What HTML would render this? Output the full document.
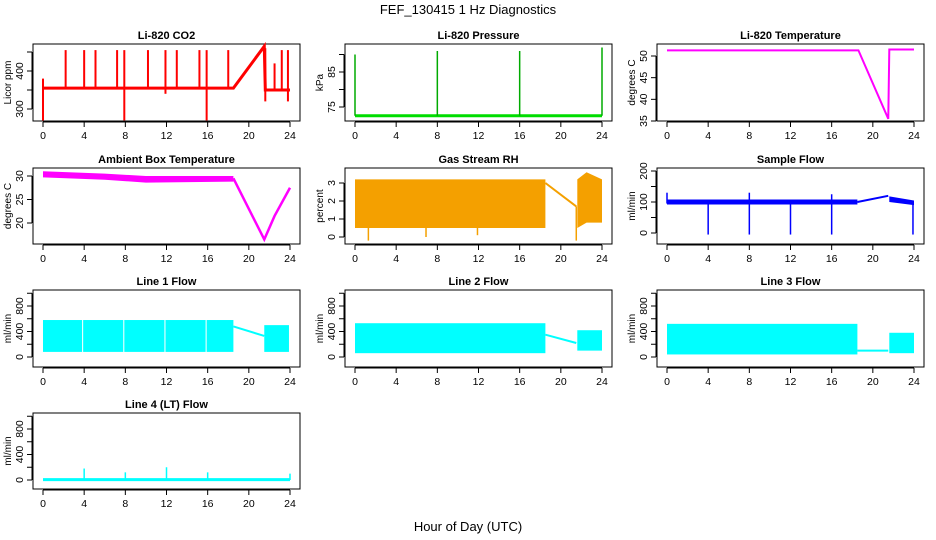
<!DOCTYPE html>
<html><head><meta charset="utf-8"><style>
body{margin:0;background:#fff}
svg{display:block;font-family:"Liberation Sans",sans-serif}
.t{font-weight:bold;font-size:11px}
.k{font-size:10.5px}
</style></head><body>
<svg id="c" width="936" height="540" viewBox="0 0 936 540">
<text x="468" y="14" text-anchor="middle" font-size="13">FEF_130415  1 Hz Diagnostics</text>
<text x="468" y="531" text-anchor="middle" font-size="13">Hour of Day (UTC)</text>
</svg>
<script>
// ---- data ----
const xTicks=[0,4,8,12,16,20,24];
const co2Line=[[0,355],[18.5,355],[21.5,465],[21.6,350],[24,350]];
const co2Spikes=[[0,270,380],[2.2,355,455],[4,355,455],[5.1,355,455],[7.2,355,455],[7.9,270,455],[10.2,355,455],[11.9,340,455],[13,355,455],[15.2,355,455],[15.9,270,455],[18,355,455],[21.6,320,460],[22.5,350,420],[23.2,350,455],[23.8,320,455]];
const presLine=[[0,72.5],[24,72.5]];
const presSpikes=[[0,72.5,90],[8,72.5,91],[16,72.5,91],[24,72.5,92]];
const tempLine=[[0,51.3],[18.6,51.3],[21.5,35.5],[21.6,51.5],[24,51.5]];
const ambBand=[[0,29.7,31],[6,29.2,30.5],[10,28.6,30],[18.5,28.8,30]];
const ambLine=[[18.5,29.5],[21.5,16.5],[22.5,21.5],[24,27.5]];
const rhBand1=[[0,0.5,3.2],[18.5,0.5,3.2]];
const rhLine=[[18.5,3],[21.5,1.7]];
const rhBand2=[[21.6,0.5,3.2],[22.5,0.8,3.6],[24,0.8,3.2]];
const rhSpikes=[[1.3,-0.2,0.6],[6.9,0,0.6],[11.9,0.1,0.6],[21.5,-0.2,1.7]];
const sfBand1=[[0,92,108],[18.5,92,108]];
const sfLine=[[18.5,100],[21.5,120]];
const sfBand2=[[21.6,100,118],[24,90,105]];
const sfSpikes=[[0,95,130],[4,-5,100],[8,-5,130],[12,-5,100],[16,-5,125],[23.9,-5,100]];
const l1Band=[[0,3.8,80,580],[3.9,7.8,80,580],[7.9,11.8,80,580],[11.9,15.8,80,580],[15.9,18.5,80,580],[21.5,23.9,80,500]];
const l1Line=[[18.5,480],[21.5,330]];
const l2Band=[[0,18.5,60,530],[21.6,24,100,420]];
const l2Line=[[18.5,350],[21.5,220]];
const l3Band=[[0,18.5,40,520],[21.6,24,60,380]];
const l3Line=[[18.5,100],[21.5,100]];
const l4Line=[[0,5],[24,5]];
const l4Spikes=[[4,0,180],[8,0,120],[12,0,200],[16,0,120],[24,0,100]];

const svg=document.getElementById('c');
const NS='http://www.w3.org/2000/svg';
function mk(tag,a,parent){const e=document.createElementNS(NS,tag);for(const k in a)e.setAttribute(k,a[k]);(parent||svg).appendChild(e);return e;}
const colX=[43,355,667], rowTop=[44,168,290,413], rowBot=[121,244,367,489];
function panel(col,row,title,ylab,yscale,yticks,ylabels,name){
  const x0=colX[col],W=247,top=rowTop[row],bot=rowBot[row];
  const g=mk('g',{});
  
  
  const X=h=>x0+h/24*W;
  const Y=v=>yscale[1]+(v-yscale[0])*(yscale[3]-yscale[1])/(yscale[2]-yscale[0]);
  const box=mk('rect',{x:x0-10,y:top,width:W+20,height:bot-top,fill:'none',stroke:'#000','stroke-width':1},g);
  
  const t=mk('text',{x:x0+W/2,y:top-5,'text-anchor':'middle',class:'t'},g);t.textContent=title;
  
  mk('line',{x1:X(0),x2:X(24),y1:bot+1,y2:bot+1,stroke:'#000'},g);
  xTicks.forEach(h=>{mk('line',{x1:X(h),x2:X(h),y1:bot+1,y2:bot+6,stroke:'#000'},g);
    const tx=mk('text',{x:X(h),y:bot+18,'text-anchor':'middle',class:'k'},g);tx.textContent=h;
    });
  const yt=yticks.map(Y);
  mk('line',{x1:x0-11,x2:x0-11,y1:Math.min(...yt),y2:Math.max(...yt),stroke:'#000'},g);
  yticks.forEach(v=>mk('line',{x1:x0-11,x2:x0-16,y1:Y(v),y2:Y(v),stroke:'#000'},g));
  ylabels.forEach(v=>{const tx=mk('text',{x:x0-20,y:Y(v),'text-anchor':'middle',class:'k',transform:`rotate(-90 ${x0-20} ${Y(v)})`},g);tx.textContent=v;
    });
  const yl=mk('text',{x:x0-32,y:(top+bot)/2,'text-anchor':'middle','font-size':10,transform:`rotate(-90 ${x0-32} ${(top+bot)/2})`},g);yl.textContent=ylab;
  
  return {g,X,Y};
}
function line(p,pts,col,w){const l=mk('polyline',{points:pts.map(q=>p.X(q[0])+','+p.Y(q[1])).join(' '),fill:'none',stroke:col,'stroke-width':w},p.g);
  }
function spikes(p,arr,col,w){arr.forEach(s=>{const l=mk('line',{x1:p.X(s[0]),x2:p.X(s[0]),y1:p.Y(s[1]),y2:p.Y(s[2]),stroke:col,'stroke-width':w},p.g);
  });}
function band(p,arr,col){const up=arr.map(q=>p.X(q[0])+','+p.Y(q[2])),dn=arr.slice().reverse().map(q=>p.X(q[0])+','+p.Y(q[1]));
  const b=mk('polygon',{points:up.concat(dn).join(' '),fill:col},p.g);}
function blocks(p,arr,col){arr.forEach(q=>{const r=mk('rect',{x:p.X(q[0]),y:p.Y(q[3]),width:p.X(q[1])-p.X(q[0]),height:p.Y(q[2])-p.Y(q[3]),fill:col},p.g);
  });}

let p=panel(0,0,'Li-820 CO2','Licor ppm',[300,109,400,71],[300,350,400,450],[300,400],'co2');
line(p,co2Line,'#f00',3);spikes(p,co2Spikes,'#f00',2);
p=panel(1,0,'Li-820 Pressure','kPa',[75,107,85,72],[75,80,85,90],[75,85],'pressure');
line(p,presLine,'#0d0',3);spikes(p,presSpikes,'#0a0',1.5);
p=panel(2,0,'Li-820 Temperature','degrees C',[50,56,35,121],[35,40,45,50],[35,40,45,50],'li-temperature');
line(p,tempLine,'#f0f',2);
p=panel(0,1,'Ambient Box Temperature','degrees C',[30,176,20,223],[20,25,30],[20,25,30],'ambient-temperature');
band(p,ambBand,'#f0f');line(p,ambLine,'#f0f',2.5);
p=panel(1,1,'Gas Stream RH','percent',[0,237,3,183],[0,1,2,3],[0,1,2,3],'gas-rh');
band(p,rhBand1,'#f4a000');band(p,rhBand2,'#f4a000');line(p,rhLine,'#f4a000',2);spikes(p,rhSpikes,'#f4a000',1.5);
p=panel(2,1,'Sample Flow','ml/min',[0,233,200,171],[0,50,100,150,200],[0,100,200],'sample-flow');
band(p,sfBand1,'#00f');band(p,sfBand2,'#00f');line(p,sfLine,'#00f',2);spikes(p,sfSpikes,'#00f',1.5);
p=panel(0,2,'Line 1 Flow','ml/min',[0,357,800,306],[0,200,400,600,800,1000],[0,400,800],'line1-flow');
blocks(p,l1Band,'#0ff');line(p,l1Line,'#0ff',2);
p=panel(1,2,'Line 2 Flow','ml/min',[0,357,800,306],[0,200,400,600,800,1000],[0,400,800],'line2-flow');
blocks(p,l2Band,'#0ff');line(p,l2Line,'#0ff',2);
p=panel(2,2,'Line 3 Flow','ml/min',[0,357,800,306],[0,200,400,600,800,1000],[0,400,800],'line3-flow');
blocks(p,l3Band,'#0ff');line(p,l3Line,'#0ff',2);
p=panel(0,3,'Line 4 (LT) Flow','ml/min',[0,480,800,429],[0,200,400,600,800,1000],[0,400,800],'line4-flow');
line(p,l4Line,'#0ff',3);spikes(p,l4Spikes,'#0ff',1.5);
</script>
</body></html>
